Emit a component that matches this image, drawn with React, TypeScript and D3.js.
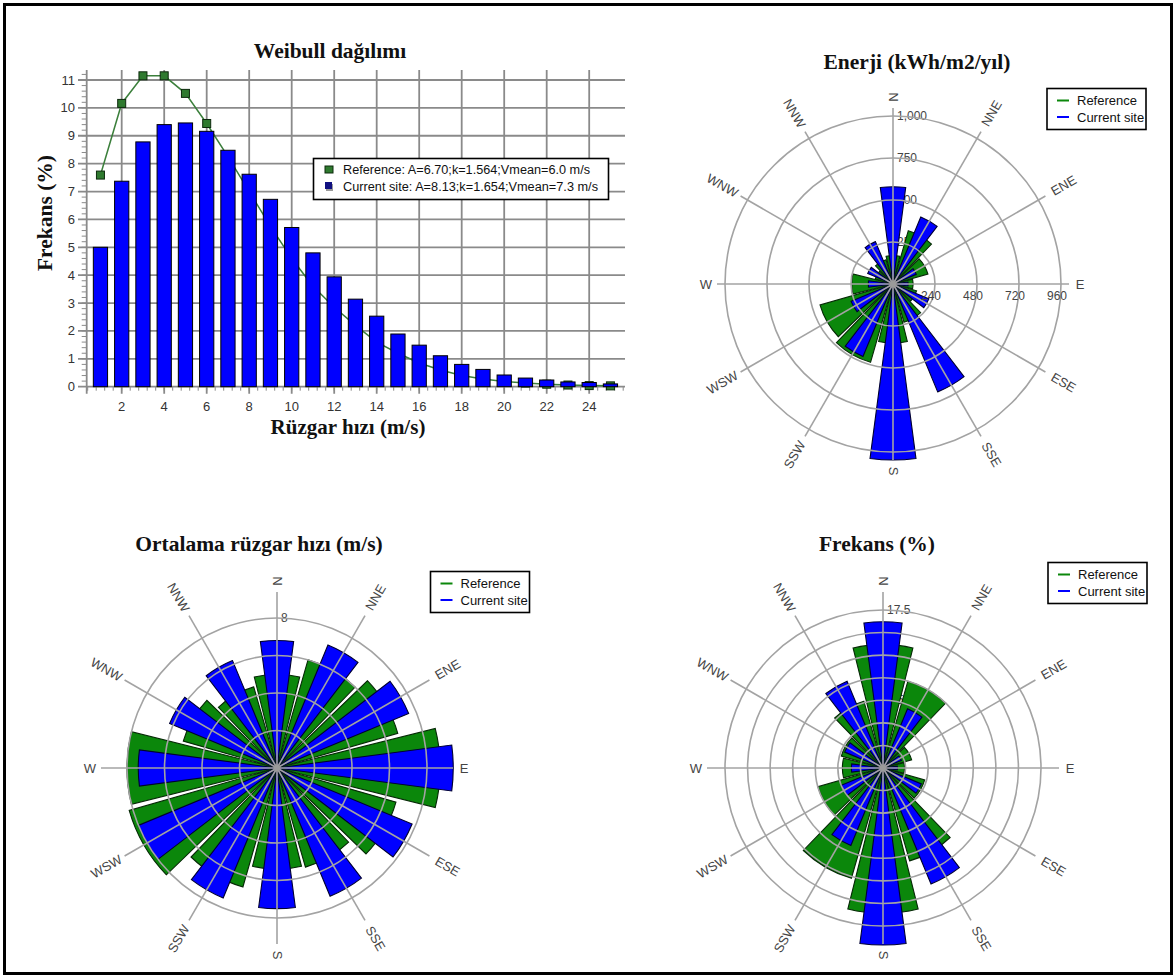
import React from 'react';
import * as d3 from 'd3';

// ---------- Weibull data ----------
const speedBins = [1, 2, 3, 4, 5, 6, 7, 8, 9, 10, 11, 12, 13, 14, 15, 16, 17, 18, 19, 20, 21, 22, 23, 24, 25];
const currentSiteFreq = [5.0, 7.37, 8.78, 9.4, 9.46, 9.16, 8.48, 7.62, 6.72, 5.71, 4.8, 3.94, 3.14, 2.53, 1.89, 1.49, 1.11, 0.8, 0.62, 0.42, 0.31, 0.24, 0.17, 0.15, 0.1];
const referenceFreq = [7.59, 10.16, 11.15, 11.15, 10.52, 9.44, 8.25, 7.0, 5.75, 4.6, 3.6, 2.85, 2.2, 1.6, 1.2, 0.85, 0.6, 0.4, 0.28, 0.19, 0.13, 0.09, 0.06, 0.04, 0.03];
const yTickValues = [0, 1, 2, 3, 4, 5, 6, 7, 8, 9, 10, 11];
const xTickValues = [2, 4, 6, 8, 10, 12, 14, 16, 18, 20, 22, 24];
const weibullLegend = [
  'Reference: A=6.70;k=1.564;Vmean=6.0 m/s',
  'Current site: A=8.13;k=1.654;Vmean=7.3 m/s',
];

// ---------- Rose data ----------
const directions = ['N', 'NNE', 'ENE', 'E', 'ESE', 'SSE', 'S', 'SSW', 'WSW', 'W', 'WNW', 'NNW'];
const dirAngles = [0, 30, 60, 90, 120, 150, 180, 210, 240, 270, 300, 330];

const energyRef = [170, 330, 216, 120, 146, 237, 353, 485, 452, 246, 110, 150];
const energyCur = [579, 432, 150, 90, 231, 695, 1048, 467, 270, 147, 163, 273];
const energyRings = [250, 500, 750, 1000];
const energyRingLabels = ['250', '500', '750', '1,000'];
const energyEastLabels = ['240', '480', '720', '960'];

const speedRef = [5.0, 6.0, 6.7, 8.7, 6.6, 5.5, 5.4, 6.6, 8.2, 8.0, 5.2, 4.5];
const speedCur = [6.8, 7.1, 7.6, 9.4, 7.8, 7.4, 7.5, 7.5, 8.0, 7.4, 6.2, 6.2];
const speedRings = [2, 4, 6, 8];
const speedRingLabels = ['2', '4', '6', '8'];

const freqRef = [13.7, 10.0, 3.3, 2.4, 4.8, 10.7, 16.1, 12.7, 7.5, 4.5, 4.8, 7.7];
const freqCur = [16.2, 7.1, 2.2, 1.6, 4.6, 13.9, 19.6, 9.3, 5.0, 3.5, 4.6, 10.4];
const freqRings = [2.5, 5, 7.5, 10, 12.5, 15, 17.5];
const freqRingLabels = ['2.5', '5', '7.5', '10', '12.5', '15', '17.5'];

const legendNames = ['Reference', 'Current site'];

const SANS = "Arial, 'Liberation Sans', sans-serif";
const SERIF = "'Times New Roman', 'Liberation Serif', serif";
const BLUE = '#0000ff';
const GREEN = '#0b870b';
const GRID = '#8a8a8a';

function WeibullChart() {
  const x = d3.scaleLinear().domain([0, 24]).range([79.2, 589.2]);
  const y = d3.scaleLinear().domain([0, 11]).range([386.7, 80]);
  const left = 86.7;
  const right = 625;
  const top = 70;
  const bottom = y(0);
  const barW = x(0.67) - x(0);
  const minorX = d3.range(0.4, 25.7, 0.4);
  const minorY = d3.range(0.2, 11.35, 0.2);
  const line = d3
    .line<number>()
    .x((_, i) => x(speedBins[i]))
    .y((d) => y(d));

  return (
    <g>
      {/* grid */}
      {yTickValues
        .filter((t) => t > 0)
        .map((t) => (
          <line key={'gy' + t} x1={78} x2={right} y1={y(t)} y2={y(t)} stroke={GRID} strokeWidth={1.8} />
        ))}
      {xTickValues.map((t) => (
        <line key={'gx' + t} x1={x(t)} x2={x(t)} y1={top} y2={bottom + 7} stroke={GRID} strokeWidth={1.8} />
      ))}
      {minorY.map((t, i) => (
        <line key={'my' + i} x1={left - 5} x2={left} y1={y(t)} y2={y(t)} stroke={GRID} strokeWidth={1} />
      ))}
      {minorX.map((t, i) => (
        <line key={'mx' + i} x1={x(t)} x2={x(t)} y1={bottom} y2={bottom + 4} stroke={GRID} strokeWidth={1} />
      ))}
      <line x1={78} x2={right} y1={bottom} y2={bottom} stroke={GRID} strokeWidth={1.8} />
      <line x1={left} x2={left} y1={top} y2={bottom + 7} stroke={GRID} strokeWidth={1.8} />

      {/* reference line */}
      <path d={line(referenceFreq) || ''} fill="none" stroke="#3b7f3b" strokeWidth={1.5} />
      {referenceFreq.map((v, i) => (
        <rect
          key={'rm' + i}
          x={x(speedBins[i]) - 4}
          y={y(v) - 4}
          width={8}
          height={8}
          fill="#2f7a2f"
          stroke="#0d2a0d"
          strokeWidth={1}
        />
      ))}

      {/* bars */}
      {currentSiteFreq.map((v, i) => (
        <rect
          key={'b' + i}
          x={x(speedBins[i]) - barW / 2}
          y={y(v)}
          width={barW}
          height={bottom - y(v)}
          fill={BLUE}
          stroke="#000"
          strokeWidth={1}
        />
      ))}

      {/* tick labels */}
      {yTickValues.map((t) => (
        <text key={'ly' + t} x={75} y={y(t)} fontSize={13} fontFamily={SANS} fill="#333" textAnchor="end" dominantBaseline="central">
          {t}
        </text>
      ))}
      {xTickValues.map((t) => (
        <text key={'lx' + t} x={x(t)} y={410.5} fontSize={13} fontFamily={SANS} fill="#333" textAnchor="middle">
          {t}
        </text>
      ))}

      {/* legend */}
      <rect x={313.5} y={158.5} width={295} height={41} fill="#fff" stroke="#000" strokeWidth={1.6} />
      <rect x={325} y={166} width={8} height={7} fill="#2f7a2f" stroke="#0d2a0d" strokeWidth={1} />
      <rect x={326} y={184} width={7} height={7} fill="#9a9a9a" />
      <rect x={325} y={182} width={7} height={7} fill="#101080" />
      <text x={343} y={173.5} fontSize={12.5} fontFamily={SANS} fill="#111" textLength={247} lengthAdjust="spacingAndGlyphs">
        {weibullLegend[0]}
      </text>
      <text x={343} y={191} fontSize={12.5} fontFamily={SANS} fill="#111" textLength={255} lengthAdjust="spacingAndGlyphs">
        {weibullLegend[1]}
      </text>

      {/* titles */}
      <text x={330} y={58} fontSize={21.5} fontWeight="bold" fontFamily={SERIF} textAnchor="middle" fill="#111">
        Weibull dağılımı
      </text>
      <text x={348} y={434} fontSize={21} fontWeight="bold" fontFamily={SERIF} textAnchor="middle" fill="#111">
        Rüzgar hızı (m/s)
      </text>
      <text
        transform="translate(51.5,213) rotate(-90)"
        fontSize={21.5}
        fontWeight="bold"
        fontFamily={SERIF}
        textAnchor="middle"
        fill="#111"
      >
        Frekans (%)
      </text>
    </g>
  );
}

type RoseProps = {
  cx: number;
  cy: number;
  maxV: number;
  maxR: number;
  rings: number[];
  ringLabels: string[];
  refVals: number[];
  curVals: number[];
  title: string;
  titleX: number;
  titleY: number;
  legendX: number;
  legendY: number;
  eastLabels?: string[];
};

function Rose(p: RoseProps) {
  const r = d3.scaleLinear().domain([0, p.maxV]).range([0, p.maxR]);
  const arc = d3.arc<any>();
  const rad = (deg: number) => (deg * Math.PI) / 180;
  const sector = (deg: number, v: number, half: number) =>
    arc({ innerRadius: 0, outerRadius: r(v), startAngle: rad(deg - half), endAngle: rad(deg + half) }) || '';
  const axisR = 176;

  return (
    <g>
      <text x={p.titleX} y={p.titleY} fontSize={21.5} fontWeight="bold" fontFamily={SERIF} textAnchor="middle" fill="#111">
        {p.title}
      </text>
      <g transform={`translate(${p.cx},${p.cy})`}>
        {/* ring labels, under the bars */}
        {p.rings.map((v, i) => (
          <text key={'rl' + i} x={4} y={-r(v)} fontSize={12} fontFamily={SANS} fill="#444" dominantBaseline="central">
            {p.ringLabels[i]}
          </text>
        ))}
        {/* reference sectors */}
        {p.refVals.map((v, i) => (
          <path key={'g' + i} d={sector(dirAngles[i], v, 14)} fill={GREEN} stroke="#062806" strokeWidth={1.1} />
        ))}
        {/* current site sectors */}
        {p.curVals.map((v, i) => (
          <path key={'c' + i} d={sector(dirAngles[i], v, 7.5)} fill={BLUE} stroke="#000030" strokeWidth={1.1} />
        ))}
        {/* grid on top */}
        {p.rings.map((v, i) => (
          <circle key={'rc' + i} r={r(v)} fill="none" stroke="#a3a3a3" strokeWidth={1.6} />
        ))}
        {dirAngles.map((deg, i) => (
          <line
            key={'ax' + i}
            x1={0}
            y1={0}
            x2={Math.sin(rad(deg)) * axisR}
            y2={-Math.cos(rad(deg)) * axisR}
            stroke="#a3a3a3"
            strokeWidth={1.6}
          />
        ))}
        <circle r={3.5} fill="#9a9a9a" />
        {/* direction labels */}
        {directions.map((d, i) => {
          const deg = dirAngles[i];
          const rl = 182 + 5 * d.length;
          const lx = Math.sin(rad(deg)) * rl;
          const ly = -Math.cos(rad(deg)) * rl;
          const rot = deg <= 180 ? deg - 90 : deg - 270;
          return (
            <text
              key={'dl' + i}
              transform={`translate(${lx},${ly}) rotate(${rot})`}
              fontSize={13}
              fontFamily={SANS}
              fill="#444"
              textAnchor="middle"
              dominantBaseline="central"
            >
              {d}
            </text>
          );
        })}
        {p.eastLabels &&
          p.eastLabels.map((t, i) => (
            <text key={'el' + i} x={r(p.rings[i]) - 4} y={12} fontSize={12} fontFamily={SANS} fill="#444" textAnchor="middle" dominantBaseline="central">
              {t}
            </text>
          ))}
      </g>
      {/* legend */}
      <g transform={`translate(${p.legendX},${p.legendY})`}>
        <rect x={0} y={0} width={99} height={41} fill="#fff" stroke="#000" strokeWidth={1.6} />
        <line x1={10} x2={22} y1={12} y2={12} stroke={GREEN} strokeWidth={2} />
        <line x1={10} x2={22} y1={28.5} y2={28.5} stroke={BLUE} strokeWidth={2} />
        <text x={30} y={12} fontSize={13} fontFamily={SANS} fill="#111" dominantBaseline="central">
          {legendNames[0]}
        </text>
        <text x={30} y={28.5} fontSize={13} fontFamily={SANS} fill="#111" dominantBaseline="central">
          {legendNames[1]}
        </text>
      </g>
    </g>
  );
}

export default function App() {
  return (
    <div style={{ position: 'absolute', left: 0, top: 0 }}>
      <svg width={1176} height={978} viewBox="0 0 1176 978" style={{ display: 'block', background: '#fff' }}>
        <rect x={0} y={0} width={1176} height={978} fill="#fff" />
        <WeibullChart />
        <Rose
          cx={893}
          cy={284}
          maxV={1000}
          maxR={168}
          rings={energyRings}
          ringLabels={energyRingLabels}
          refVals={energyRef}
          curVals={energyCur}
          title="Enerji (kWh/m2/yıl)"
          titleX={917}
          titleY={69}
          legendX={1047}
          legendY={88.5}
          eastLabels={energyEastLabels}
        />
        <Rose
          cx={277}
          cy={768}
          maxV={8}
          maxR={150}
          rings={speedRings}
          ringLabels={speedRingLabels}
          refVals={speedRef}
          curVals={speedCur}
          title="Ortalama rüzgar hızı (m/s)"
          titleX={259}
          titleY={551}
          legendX={430.5}
          legendY={571.5}
        />
        <Rose
          cx={883}
          cy={768}
          maxV={17.5}
          maxR={158}
          rings={freqRings}
          ringLabels={freqRingLabels}
          refVals={freqRef}
          curVals={freqCur}
          title="Frekans (%)"
          titleX={877}
          titleY={551}
          legendX={1048}
          legendY={562.5}
        />
        <rect x={4.5} y={4.5} width={1167} height={969} fill="none" stroke="#000" strokeWidth={3} />
      </svg>
    </div>
  );
}
